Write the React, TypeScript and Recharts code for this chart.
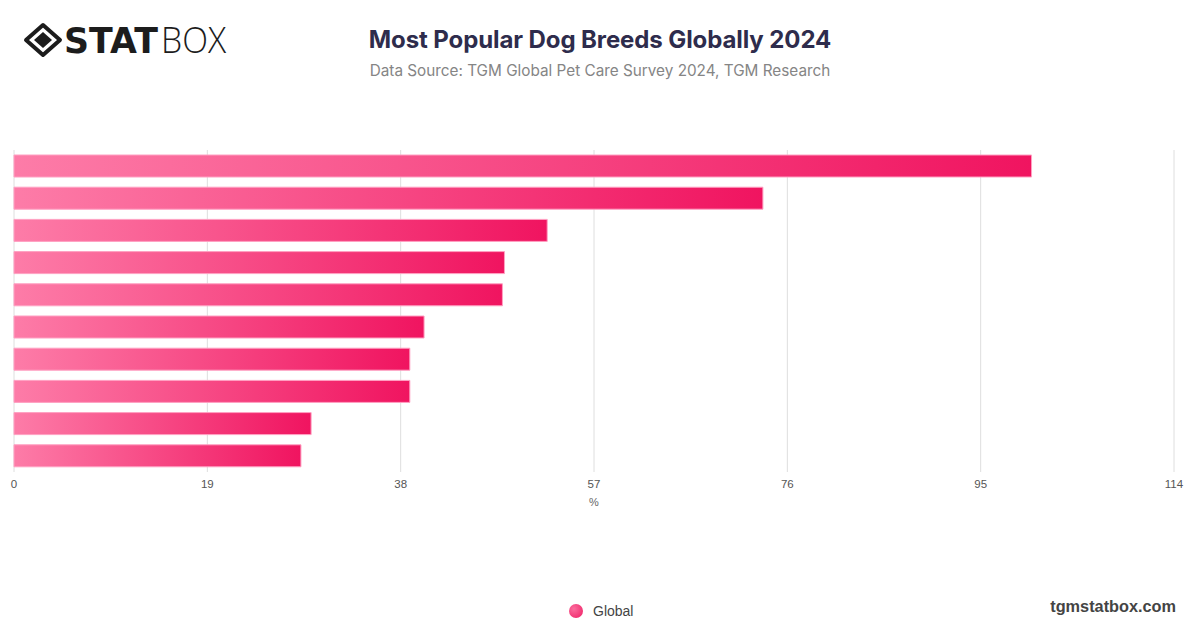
import React from 'react';
import { BarChart, Bar, XAxis, YAxis, CartesianGrid } from 'recharts';

const breeds = ['Breed 1', 'Breed 2', 'Breed 3', 'Breed 4', 'Breed 5', 'Breed 6', 'Breed 7', 'Breed 8', 'Breed 9', 'Breed 10'];
const globalValues = [100, 73.6, 52.4, 48.2, 48.0, 40.3, 38.9, 38.9, 29.2, 28.2];
const xTicks = [0, 19, 38, 57, 76, 95, 114];

const data = breeds.map((name, i) => ({ name, global: globalValues[i] }));

const Logo = () => (
  <svg width={230} height={70} style={{ position: 'absolute', left: 0, top: 5 }}>
    <g transform="translate(43,35)">
      <path d="M0,-15 L17,0 L0,15 L-17,0 Z" fill="none" stroke="#1c1c1c" strokeWidth={4} strokeLinejoin="round" />
      <path d="M0,-8 L9,0 L0,8 L-9,0 Z" fill="#1c1c1c" />
    </g>
    <text x={64} y={48} fontFamily="DejaVu Sans" fontWeight={900} fontSize={36} fill="#1c1c1c" textLength={94} lengthAdjust="spacingAndGlyphs">STAT</text>
    <text x={161} y={48} fontFamily="Open Sans" fontWeight={300} fontSize={36} fill="#1c1c1c" textLength={65} lengthAdjust="spacingAndGlyphs">BOX</text>
  </svg>
);

export default function App() {
  return (
    <div style={{ position: 'absolute', left: 0, top: 0, width: 1200, height: 628, background: '#fff', overflow: 'hidden' }}>
      <Logo />
      <div style={{ position: 'absolute', left: 0, width: 1200, top: 25, textAlign: 'center', fontFamily: 'Inter', fontWeight: 700, fontSize: 24, color: '#2e2c4c', letterSpacing: -0.1 }}>
        Most Popular Dog Breeds Globally 2024
      </div>
      <div style={{ position: 'absolute', left: 0, width: 1200, top: 61, textAlign: 'center', fontFamily: 'Inter', fontWeight: 400, fontSize: 15.3, color: '#858585' }}>
        Data Source: TGM Global Pet Care Survey 2024, TGM Research
      </div>
      <div style={{ position: 'absolute', left: 0, top: 0 }}>
        <BarChart width={1200} height={628} data={data} layout="vertical" margin={{ top: 150, right: 26, bottom: 126, left: 14 }} barCategoryGap={0}>
          <defs>
            <linearGradient id="barGrad" x1="0" y1="0" x2="1" y2="0">
              <stop offset="0%" stopColor="#fd7ca8" />
              <stop offset="100%" stopColor="#f01460" />
            </linearGradient>
          </defs>
          <CartesianGrid horizontal={false} stroke="#dedede" />
          <XAxis
            type="number"
            domain={[0, 114]}
            ticks={xTicks}
            axisLine={false}
            tickLine={false}
            interval={0}
            tick={{ fill: '#555', fontSize: 11.5, fontFamily: 'Liberation Sans' }}
            label={{ value: '%', position: 'bottom', offset: -4, fill: '#666', fontSize: 11, fontFamily: 'Liberation Sans' }}
          />
          <YAxis type="category" dataKey="name" width={0} tick={false} tickLine={false} axisLine={{ stroke: '#333', strokeWidth: 1.5 }} />
          <Bar dataKey="global" barSize={22} fill="url(#barGrad)" stroke="#ffa0c2" strokeWidth={1} isAnimationActive={false} />
        </BarChart>
      </div>
      <div style={{ position: 'absolute', left: 569, top: 604, width: 14, height: 14, borderRadius: 7, background: 'radial-gradient(circle at 35% 35%, #fb6c9d, #ee1d63)' }} />
      <div style={{ position: 'absolute', left: 593, top: 603, fontFamily: 'Liberation Sans', fontSize: 14, color: '#444' }}>Global</div>
      <div style={{ position: 'absolute', right: 24, top: 597, fontFamily: 'Liberation Sans', fontWeight: 700, fontSize: 16.3, color: '#444' }}>tgmstatbox.com</div>
    </div>
  );
}
